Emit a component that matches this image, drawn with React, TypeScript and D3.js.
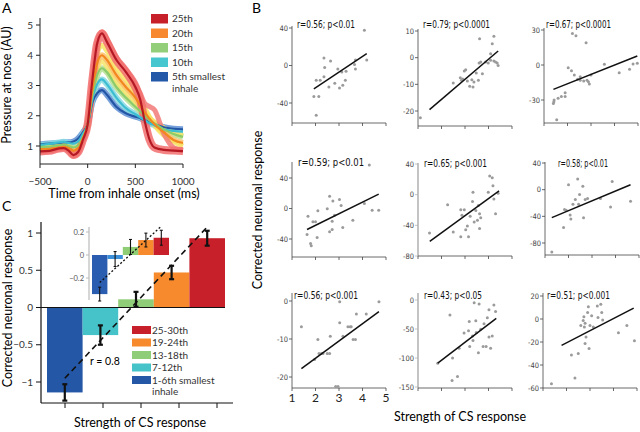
import React from "react";
import * as d3 from "d3";

// ---------- Panel A data ----------
const timesA = [-500, -400, -300, -250, -200, -150, -100, -50, 0, 50, 100, 150, 200, 300, 400, 500, 550, 600, 650, 700, 800, 900, 1000];
const pressure25 = [0.82, 0.84, 0.92, 0.93, 0.85, 0.7, 0.8, 1.2, 1.72, 3.2, 4.4, 4.72, 4.45, 3.85, 3.45, 2.95, 2.55, 1.8, 1.2, 0.95, 0.87, 0.85, 0.83];
const pressure20 = [0.9, 0.9, 0.95, 0.97, 0.93, 0.85, 0.92, 1.25, 1.72, 2.9, 3.75, 4.0, 3.85, 3.35, 2.95, 2.6, 2.35, 2.1, 1.9, 1.72, 1.45, 1.2, 1.1];
const pressure15 = [0.97, 0.98, 1.02, 1.05, 1.0, 0.95, 1.02, 1.3, 1.72, 2.7, 3.35, 3.57, 3.45, 2.95, 2.6, 2.3, 2.15, 2.0, 1.85, 1.75, 1.55, 1.4, 1.3];
const pressure10 = [1.03, 1.07, 1.12, 1.14, 1.1, 1.08, 1.15, 1.4, 1.72, 2.55, 3.05, 3.2, 3.05, 2.6, 2.25, 2.05, 1.95, 1.85, 1.75, 1.68, 1.55, 1.5, 1.47];
const pressure5 = [1.05, 1.08, 1.1, 1.12, 1.12, 1.15, 1.25, 1.45, 1.72, 2.45, 2.75, 2.85, 2.7, 2.3, 2.08, 1.97, 1.92, 1.85, 1.78, 1.72, 1.62, 1.57, 1.55];
const pressureYellowHigh = [0.86, 0.87, 0.93, 0.95, 0.9, 0.78, 0.85, 1.22, 1.72, 3.05, 4.05, 4.33, 4.15, 3.6, 3.2, 2.8, 2.55, 2.25, 1.95, 1.7, 1.35, 1.15, 1.0];
const pressureYellowLow = [0.93, 0.94, 0.98, 1.0, 0.96, 0.9, 0.97, 1.27, 1.72, 2.8, 3.55, 3.8, 3.65, 3.15, 2.78, 2.45, 2.25, 2.05, 1.9, 1.8, 1.6, 1.45, 1.35];
const pressureSalmon = [0.8, 0.83, 0.9, 0.92, 0.84, 0.68, 0.78, 1.18, 1.72, 3.25, 4.45, 4.78, 4.55, 3.95, 3.55, 3.1, 2.75, 2.4, 2.3, 2.2, 1.4, 0.95, 0.85];
const legendA = ["25th", "20th", "15th", "10th", "5th smallest"];
const xTicksA = [-500, 0, 500, 1000];
const yTicksA = [1, 2, 3, 4, 5];

// ---------- Panel B data ----------
const b1x = [4.08, 4.18, 3.7, 3.66, 3.7, 2.36, 2.39, 2.36, 2.64, 2.03, 2.2, 2.57, 2.82, 2.95, 3.02, 3.12, 3.16, 3.27, 3.3, 1.93, 2.14, 2.03];
const b1y = [37.5, 6, 6, 1, -3.6, 8, -2, -12, 4.7, -15.6, -15.6, -23, -19, -3.6, -24, -7, -21, -15.6, -6, -33, -33, -53];
const b1fit = [[1.93, -25], [4.18, 12.7]];
const b2x = [1.1, 2.5, 2.8, 2.85, 2.9, 3.03, 2.97, 3.1, 3.2, 3.34, 3.29, 3.38, 3.48, 3.57, 3.6, 3.67, 3.62, 3.74, 3.88, 3.99, 4.09, 4.16, 4.23, 4.23, 4.3, 4.37, 4.41, 4.09];
const b2y = [-22.5, -9.5, -7.5, -8.5, -8, -4.5, -5, -8.75, -10.75, -11, -8.25, -9.1, -5.75, -8.5, -2, -1.6, 7.1, -6, -1.6, -2, -1, 5.25, 8, -1.25, -1.6, -2, -2.9, 1.5];
const b2fit = [[1.49, -19.5], [4.41, 2.5]];
const b3x = [1.4, 1.43, 1.42, 1.6, 1.74, 1.9, 1.9, 1.54, 2.03, 2.17, 2.21, 2.36, 2.29, 2.43, 2.54, 2.69, 2.79, 2.83, 2.89, 2.93, 3, 3.57, 4.2, 4.64, 4.79, 4.97, 2.54];
const b3y = [-32.9, -30, -31.5, -28.6, -27, -27, -23.7, -47, -2.3, -5, 27, 25, -8.6, -12.3, -13, -13.7, 19, -13, -14.3, -16.3, -8.6, 0.6, -6.6, -3.7, 0.9, 1.4, -10];
const b3fit = [[1.4, -20.9], [4.97, 7.7]];
const b4x = [1.64, 1.68, 1.79, 1.82, 1.89, 2, 2.07, 2.1, 2.5, 2.6, 2.6, 2.71, 2.74, 2.71, 2.81, 3.02, 3.09, 3.16, 3.59, 4.08, 4.29, 4.41, 4.69];
const b4y = [-34, -10, -46, -49, -17.5, -17.5, -38, -3, -0.4, 16, -30.6, -27.5, 10, -16.6, -8.7, 11.8, 4, -25, -15.3, 6.5, 57, -2.2, -2.2];
const b4fit = [[1.64, -27.5], [4.69, 18.8]];
const b5x = [1.49, 2.26, 2.5, 2.82, 2.82, 2.87, 2.97, 3.03, 3.1, 3.15, 3.22, 3.32, 3.34, 3.39, 3.46, 3.53, 3.57, 3.62, 3.62, 3.67, 3.99, 4.05, 4.16, 4.19, 4.23, 4.3, 4.41];
const b5y = [-50, -13, -48.6, -55, -19.8, -27, -19.8, -45.6, -41, -55, -28, -9, 3, -35.7, -20.6, -33.5, -14, -25, -44, -30, 3, 24.5, 22, 11.6, -5.6, -25, 1.7];
const b5fit = [[1.5, -61], [4.45, 5]];
const b6x = [1.29, 1.79, 1.83, 1.9, 2, 2.07, 2.1, 2.19, 2.29, 2.39, 2.43, 2.47, 2.61, 2.64, 2.71, 2.81, 3.36, 3.79, 3.86, 4.64];
const b6y = [-93.6, -56.7, -29.6, -31, 7.4, -38, -44, -22, -14.8, 16, -22, -7.4, 5, -42, -14.8, -13.3, -13.3, -26, 12.3, -17.2];
const b6fit = [[1.29, -41.9], [4.64, 7.4]];
const b7x = [1.4, 1.96, 2.1, 2.15, 2.25, 2.32, 2.5, 2.6, 2.63, 2.86, 2.96, 3.03, 3.03, 3.17, 3.38, 3.48, 3.52, 3.6, 3.7, 3.74, 4.16, 4.7];
const b7y = [-6.8, -15.4, -10.1, -13.8, -13.8, -13.8, -13.8, -13.8, -9.25, -22.5, -22.5, -0.2, -5.7, -9.25, -6.8, -6.8, -6.8, -10.1, -10.1, -3.4, -3.4, -0.2];
const b7fit = [[1.4, -17.8], [4.7, -2.8]];
const b8x = [1.84, 2.36, 2.45, 2.47, 2.68, 2.75, 2.96, 3.15, 3.18, 3.2, 3.32, 3.34, 3.39, 3.46, 3.48, 3.57, 3.6, 3.67, 3.77, 3.81, 3.9, 3.95, 4.02, 4.02, 4.09, 4.16, 4.23, 4.3];
const b8y = [-109, -26, -139, -100, -132, -83, -57, -53, -37, -80, -62, -70, -4.6, -35.6, -56, -91, -6.9, -50.6, -80, -41, -80, -30.5, -17, -64, -83, -62, -8.6, -20];
const b8fit = [[1.84, -109], [4.33, -31.6]];
const b9x = [1.36, 2.21, 2.36, 2.5, 2.61, 2.71, 2.74, 2.76, 2.79, 2.79, 2.83, 2.9, 2.93, 2.96, 3, 3.07, 3.14, 3.31, 3.34, 3.46, 3.5, 3.54, 4.21, 4.57, 4.89];
const b9y = [-56.3, -31.4, -51.4, -30, -5.7, -1.4, 2, -7, -3.7, -21.4, -15.7, 5.7, 10.6, -25.7, -5.7, 2.9, -7, 11.4, 1.4, 12.9, 5.7, -0.9, -12, -5.7, -19];
const b9fit = [[1.79, -22.9], [4.86, 9.4]];
const bTitles = ["r=0.56; p<0.01", "r=0.79; p<0.0001", "r=0.67; p<0.0001", "r=0.59; p<0.01", "r=0.65; p<0.001", "r=0.58; p<0.01", "r=0.56; p<0.001", "r=0.43; p<0.05", "r=0.51; p<0.001"];
const bYTicks = [[-40, 0, 40], [-20, -10, 0, 10], [-30, 0, 30], [-40, 0, 40], [-80, -40, 0, 40], [-80, -40, 0, 40], [-20, -10, 0], [-150, -100, -50, 0], [-60, -40, -20, 0, 20]];
const bXTicks = [1, 2, 3, 4, 5];

// ---------- Panel C data ----------
const cCategories = ["1-6th", "7-12th", "13-18th", "19-24th", "25-30th"];
const cMeans = [-1.14, -0.37, 0.11, 0.47, 0.93];
const cErrors = [0.11, 0.13, 0.1, 0.09, 0.1];
const cFit = [-0.95, 1.08];
const cYTicks = [-1, -0.5, 0, 0.5, 1];
const insetMeans = [-0.34, -0.035, 0.07, 0.13, 0.15];
const insetErrors = [0.06, 0.065, 0.065, 0.06, 0.065];
const insetFit = [-0.24, 0.25];
const insetTicks = [-0.2, 0, 0.2];
const legendC = ["25-30th", "19-24th", "13-18th", "7-12th", "1-6th smallest"];

const FONT = "Lato, 'Liberation Sans', sans-serif";
const NARROW = "'Liberation Sans Narrow', 'DejaVu Sans Condensed', sans-serif";

const fmt = (v: number) => (v < 0 ? "\u2212" + Math.abs(v) : String(v));

function PanelA() {
  const x = d3.scaleLinear().domain([-500, 1000]).range([40, 183]);
  const y = d3.scaleLinear().domain([1, 5]).range([146, 25]);
  const line = d3.line<number>().x((_, i) => x(timesA[i])).y((d) => y(d)).curve(d3.curveMonotoneX);
  const bands: [number[], string, number][] = [
    [pressure5, "#5f8fd3", 6],
    [pressure10, "#86d9e2", 6],
    [pressure15, "#b5df92", 6],
    [pressureYellowLow, "#f4e56c", 5],
    [pressure20, "#fbc26e", 6],
    [pressureYellowHigh, "#f7e463", 5],
    [pressureSalmon, "#f27a78", 5],
    [pressure25, "#f26d6d", 8],
  ];
  const mains: [number[], string][] = [
    [pressure5, "#2456a6"],
    [pressure10, "#3dbdd2"],
    [pressure15, "#8ccb6a"],
    [pressure20, "#f3871f"],
    [pressure25, "#b51a24"],
  ];
  const legendColors = ["#c8202a", "#f7882f", "#93cf7a", "#46c6cf", "#2358a8"];
  return (
    <g>
      <text x={2} y={13} fontSize={14} fontFamily={FONT}>A</text>
      {bands.map(([d, c, w], i) => (
        <path key={"b" + i} d={line(d) || ""} fill="none" stroke={c} strokeWidth={w} strokeOpacity={0.85} />
      ))}
      {mains.map(([d, c], i) => (
        <path key={"m" + i} d={line(d) || ""} fill="none" stroke={c} strokeWidth={2.2} />
      ))}
      <line x1={40} x2={40} y1={18} y2={164} stroke="#222" strokeWidth={1} />
      <line x1={40} x2={183} y1={164} y2={164} stroke="#222" strokeWidth={1} />
      {yTicksA.map((t) => (
        <g key={t}>
          <line x1={36} x2={40} y1={y(t)} y2={y(t)} stroke="#222" />
          <text x={33} y={y(t)} dy="0.35em" textAnchor="end" fontSize={10} fontFamily={FONT} fill="#333">{t}</text>
        </g>
      ))}
      {xTicksA.map((t) => (
        <g key={t}>
          <line x1={x(t)} x2={x(t)} y1={164} y2={168} stroke="#222" />
          <text x={x(t)} y={185} textAnchor="middle" fontSize={10} fontFamily={FONT} fill="#333">{fmt(t)}</text>
        </g>
      ))}
      <text x={124} y={198} textAnchor="middle" fontSize={12.5} fontFamily={FONT}>Time from inhale onset (ms)</text>
      <text transform="translate(11,85) rotate(-90)" textAnchor="middle" fontSize={12.5} fontFamily={FONT}>Pressure at nose (AU)</text>
      {legendA.map((l, i) => (
        <g key={l}>
          <rect x={151} y={14 + i * 14.5} width={17} height={9.5} fill={legendColors[i]} />
          <text x={172} y={22 + i * 14.5} fontSize={10} fontFamily={FONT} fill="#333">{l}</text>
        </g>
      ))}
      <text x={172} y={22 + 4 * 14.5 + 11.5} fontSize={10} fontFamily={FONT} fill="#333">inhale</text>
    </g>
  );
}

type PanelCfg = {
  xs: number[]; ys: number[]; fit: number[][]; title: string; left: number; top: number; bottom: number;
  yd: number[]; yr: number[]; yTicks: number[]; tx: number; ty: number; tw: number; gray?: boolean; xLabels?: boolean;
};

function Scatter({ c }: { c: PanelCfg }) {
  const x = d3.scaleLinear().domain([1, 5]).range([c.left, c.left + 94]);
  const y = d3.scaleLinear().domain(c.yd).range(c.yr);
  const axisColor = c.gray ? "#b5b5b5" : "#444";
  const axisW = c.gray ? 1.6 : 0.8;
  return (
    <g>
      <line x1={c.left} x2={c.left} y1={c.top} y2={c.bottom} stroke={axisColor} strokeWidth={axisW} />
      <line x1={c.left} x2={c.left + 94} y1={c.bottom} y2={c.bottom} stroke="#444" strokeWidth={0.8} />
      {c.yTicks.map((t) => (
        <g key={t}>
          <line x1={c.left - 3} x2={c.left} y1={y(t)} y2={y(t)} stroke={axisColor} strokeWidth={0.8} />
          <text x={c.left - 4} y={y(t)} dy="0.35em" textAnchor="end" fontSize={7.5} fontFamily={NARROW} fill="#444">{t}</text>
        </g>
      ))}
      {bXTicks.map((t) => (
        <g key={t}>
          <line x1={x(t)} x2={x(t)} y1={c.bottom} y2={c.bottom + 3} stroke="#444" strokeWidth={0.8} />
          {c.xLabels && (
            <text x={x(t)} y={c.bottom + 14} textAnchor="middle" fontSize={12} fontFamily={FONT} fill="#222">{t}</text>
          )}
        </g>
      ))}
      {c.xs.map((v, i) => (
        <circle key={i} cx={x(v)} cy={y(c.ys[i])} r={1.5} fill="#9b9b9b" />
      ))}
      <line x1={x(c.fit[0][0])} y1={y(c.fit[0][1])} x2={x(c.fit[1][0])} y2={y(c.fit[1][1])} stroke="#111" strokeWidth={1.5} />
      <text x={c.tx} y={c.ty} fontSize={11} fontFamily={NARROW} textLength={c.tw} lengthAdjust="spacingAndGlyphs" fill="#111">{c.title}</text>
    </g>
  );
}

function PanelB() {
  const cfgs: PanelCfg[] = [
    { xs: b1x, ys: b1y, fit: b1fit, title: bTitles[0], left: 292, top: 26, bottom: 123, yd: [-40, 40], yr: [103, 28], yTicks: bYTicks[0], tx: 297, ty: 28, tw: 58 },
    { xs: b2x, ys: b2y, fit: b2fit, title: bTitles[1], left: 418, top: 29, bottom: 126, yd: [-20, 10], yr: [111, 31], yTicks: bYTicks[1], tx: 423, ty: 28, tw: 67 },
    { xs: b3x, ys: b3y, fit: b3fit, title: bTitles[2], left: 544, top: 28, bottom: 123, yd: [-30, 30], yr: [100, 30], yTicks: bYTicks[2], tx: 546, ty: 28, tw: 65 },
    { xs: b4x, ys: b4y, fit: b4fit, title: bTitles[3], left: 292, top: 162, bottom: 257, yd: [-40, 40], yr: [239, 178], yTicks: bYTicks[3], tx: 298, ty: 166, tw: 66 },
    { xs: b5x, ys: b5y, fit: b5fit, title: bTitles[4], left: 418, top: 163, bottom: 256, yd: [-80, 40], yr: [256, 164], yTicks: bYTicks[4], tx: 424, ty: 167, tw: 63, gray: true },
    { xs: b6x, ys: b6y, fit: b6fit, title: bTitles[5], left: 545, top: 162, bottom: 255, yd: [-80, 40], yr: [243, 163], yTicks: bYTicks[5], tx: 558, ty: 167, tw: 50 },
    { xs: b7x, ys: b7y, fit: b7fit, title: bTitles[6], left: 292, top: 293, bottom: 388, yd: [-20, 0], yr: [377, 301], yTicks: bYTicks[6], tx: 294, ty: 299, tw: 64, xLabels: true },
    { xs: b8x, ys: b8y, fit: b8fit, title: bTitles[7], left: 418, top: 293, bottom: 388, yd: [-150, 0], yr: [387, 300], yTicks: bYTicks[7], tx: 424, ty: 299, tw: 58, gray: true },
    { xs: b9x, ys: b9y, fit: b9fit, title: bTitles[8], left: 543, top: 293, bottom: 388, yd: [-60, 20], yr: [388, 296], yTicks: bYTicks[8], tx: 547, ty: 299, tw: 63 },
  ];
  return (
    <g>
      <text x={252} y={13} fontSize={14} fontFamily={FONT}>B</text>
      {cfgs.map((c, i) => <Scatter key={i} c={c} />)}
      <text transform="translate(262,210) rotate(-90)" textAnchor="middle" fontSize={12.5} fontFamily={FONT}>Corrected neuronal response</text>
      <text x={460} y={421} textAnchor="middle" fontSize={12.5} fontFamily={FONT}>Strength of CS response</text>
    </g>
  );
}

function PanelC() {
  const band = d3.scaleBand<string>().domain(cCategories).range([47, 225]).padding(0);
  const xTick = d3.scaleLinear().domain([0, 4]).range([65, 217]);
  const y = d3.scaleLinear().domain([-1, 1]).range([382, 233]);
  const colors = ["#2457a6", "#45c3c9", "#90cd78", "#f68a2c", "#c7202b"];
  const insetColors = ["#2a5db0", "#3b8fd8", "#8fcd75", "#f68a2c", "#c7202b"];
  const bi = d3.scaleBand<string>().domain(cCategories).range([92, 169]).padding(0);
  const yi = d3.scaleLinear().domain([-0.2, 0.2]).range([278, 232]);
  const cx = (c: string) => (band(c) || 0) + band.bandwidth() / 2;
  const cxi = (c: string) => (bi(c) || 0) + bi.bandwidth() / 2;
  const legendColors = ["#c7202b", "#f68a2c", "#90cd78", "#45c3c9", "#2457a6"];
  return (
    <g>
      <text x={2} y={211} fontSize={14} fontFamily={FONT}>C</text>
      {cCategories.map((c, i) => (
        <rect key={c} x={band(c)} width={band.bandwidth()} y={Math.min(y(0), y(cMeans[i]))} height={Math.abs(y(cMeans[i]) - y(0))} fill={colors[i]} />
      ))}
      <line x1={41} x2={225} y1={y(0)} y2={y(0)} stroke="#111" strokeWidth={1} />
      {cCategories.map((c, i) => (
        <g key={"e" + c} stroke="#111" strokeWidth={2.2}>
          <line x1={cx(c)} x2={cx(c)} y1={y(cMeans[i] - cErrors[i])} y2={y(cMeans[i] + cErrors[i])} />
          <line x1={cx(c) - 2.5} x2={cx(c) + 2.5} y1={y(cMeans[i] - cErrors[i])} y2={y(cMeans[i] - cErrors[i])} />
          <line x1={cx(c) - 2.5} x2={cx(c) + 2.5} y1={y(cMeans[i] + cErrors[i])} y2={y(cMeans[i] + cErrors[i])} />
        </g>
      ))}
      <line x1={cx(cCategories[0])} y1={y(cFit[0])} x2={cx(cCategories[4])} y2={y(cFit[1])} stroke="#111" strokeWidth={1.6} strokeDasharray="6,4" />
      <text x={90} y={365} fontSize={10.5} fontFamily={FONT}>r = 0.8</text>
      {/* inset */}
      <line x1={89} x2={89} y1={227} y2={300} stroke="#bbb" strokeWidth={1.2} />
      {insetTicks.map((t) => (
        <g key={t}>
          <line x1={86} x2={89} y1={yi(t)} y2={yi(t)} stroke="#bbb" />
          <text x={84} y={yi(t)} dy="0.35em" textAnchor="end" fontSize={7.5} fontFamily={FONT} fill="#555">{fmt(t)}</text>
        </g>
      ))}
      {cCategories.map((c, i) => (
        <rect key={"i" + c} x={bi(c)} width={bi.bandwidth()} y={Math.min(yi(0), yi(insetMeans[i]))} height={Math.abs(yi(insetMeans[i]) - yi(0))} fill={insetColors[i]} />
      ))}
      {cCategories.map((c, i) => (
        <g key={"ie" + c} stroke="#111" strokeWidth={1.1}>
          <line x1={cxi(c)} x2={cxi(c)} y1={yi(insetMeans[i] - insetErrors[i])} y2={yi(insetMeans[i] + insetErrors[i])} />
          <line x1={cxi(c) - 1.5} x2={cxi(c) + 1.5} y1={yi(insetMeans[i] - insetErrors[i])} y2={yi(insetMeans[i] - insetErrors[i])} />
          <line x1={cxi(c) - 1.5} x2={cxi(c) + 1.5} y1={yi(insetMeans[i] + insetErrors[i])} y2={yi(insetMeans[i] + insetErrors[i])} />
        </g>
      ))}
      <line x1={cxi(cCategories[0])} y1={yi(insetFit[0])} x2={cxi(cCategories[4])} y2={yi(insetFit[1])} stroke="#111" strokeWidth={1.3} strokeDasharray="2,2" />
      {/* axes */}
      <line x1={41} x2={41} y1={222} y2={403} stroke="#111" strokeWidth={1.2} />
      <line x1={41} x2={233} y1={403} y2={403} stroke="#111" strokeWidth={1.2} />
      {cYTicks.map((t) => (
        <g key={t}>
          <line x1={36} x2={41} y1={y(t)} y2={y(t)} stroke="#111" />
          <text x={33} y={y(t)} dy="0.35em" textAnchor="end" fontSize={10} fontFamily={FONT} fill="#333">{fmt(t)}</text>
        </g>
      ))}
      {cCategories.map((c, i) => (
        <line key={"t" + c} x1={xTick(i)} x2={xTick(i)} y1={403} y2={408} stroke="#111" />
      ))}
      {legendC.map((l, i) => (
        <g key={l}>
          <rect x={132} y={326 + i * 12.5} width={19} height={8} fill={legendColors[i]} />
          <text x={152} y={333.5 + i * 12.5} fontSize={10} fontFamily={FONT} fill="#333">{l}</text>
        </g>
      ))}
      <text x={152} y={395} fontSize={10} fontFamily={FONT} fill="#333">inhale</text>
      <text transform="translate(12,308) rotate(-90)" textAnchor="middle" fontSize={12.5} fontFamily={FONT}>Corrected neuronal response</text>
      <text x={140} y={427} textAnchor="middle" fontSize={12.5} fontFamily={FONT}>Strength of CS response</text>
    </g>
  );
}

export default function App() {
  return (
    <svg width={640} height={432} style={{ position: "fixed", left: 0, top: 0, background: "#fff" }}>
      <rect width={640} height={432} fill="#fff" />
      <PanelA />
      <PanelB />
      <PanelC />
    </svg>
  );
}
